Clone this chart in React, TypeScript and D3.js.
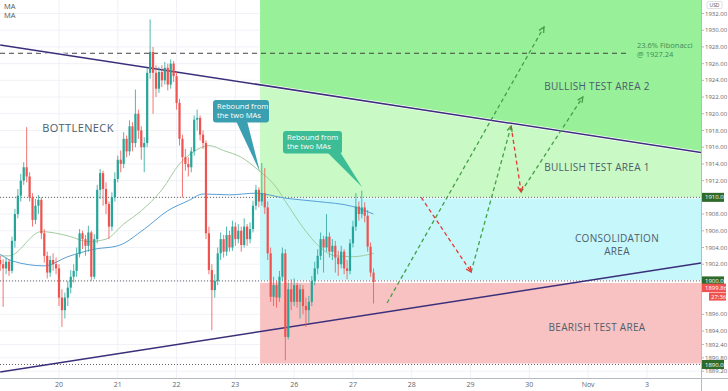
import React from 'react';
import * as d3 from 'd3';

const W = 728, H = 391;
const PR = 701, PB = 378;

// ---- data ----
const dayLabels = ['20', '21', '22', '23', '26', '27', '28', '29', '30', 'Nov', '3'];
const dayPos = [1, 2, 3, 4, 5, 6, 7, 8, 9, 10, 11];
const perDay = 20;
const firstOpen = 1902.5;
const closes = [
  1902.0, 1901.5, 1902.3, 1901.2, 1904.8, 1908.0, 1910.2, 1912.0, 1913.6, 1912.5,
  1910.0, 1907.3, 1909.0, 1909.7, 1905.7, 1903.0, 1901.0, 1902.5, 1902.0, 1901.5,
  1898.0, 1896.5, 1898.0, 1899.2, 1900.5, 1901.2, 1903.2, 1905.7, 1905.0, 1904.2,
  1905.8, 1900.5, 1905.0, 1910.9, 1912.9, 1911.0, 1909.2, 1906.5, 1910.0, 1912.2,
  1914.5, 1914.0, 1917.0, 1915.5, 1918.5, 1916.5, 1920.0, 1918.0, 1916.0, 1916.5,
  1924.9, 1927.4, 1924.9, 1923.0, 1925.0, 1924.0, 1925.5, 1923.5, 1926.0, 1924.5,
  1921.3, 1917.0, 1914.8, 1914.0, 1913.6, 1915.5, 1919.3, 1919.5, 1917.5, 1916.5,
  1905.7, 1901.3, 1898.9, 1900.0, 1903.3, 1905.0, 1903.5, 1905.5, 1904.0, 1906.5,
  1905.0, 1906.0, 1904.3, 1906.5, 1905.0, 1906.2, 1909.0, 1910.9, 1909.5, 1910.5,
  1908.8, 1903.3, 1898.1, 1899.5, 1898.0, 1900.5, 1903.3, 1893.3, 1899.0, 1897.5,
  1899.5, 1897.5, 1899.0, 1897.0, 1896.5, 1897.5, 1900.0, 1901.5, 1903.0, 1905.0,
  1904.0, 1905.3, 1903.5, 1904.2, 1902.8, 1902.0, 1903.5, 1901.5, 1901.2, 1904.5,
  1906.5, 1908.9, 1908.0, 1908.8, 1907.8, 1904.1, 1901.0, 1899.86,
];
const highs = [
  1903.0, 1902.6, 1902.8, 1902.6, 1905.3, 1908.6, 1911.0, 1912.8, 1914.2, 1918.4,
  1913.0, 1910.5, 1909.8, 1910.3, 1910.0, 1906.2, 1903.5, 1903.0, 1903.3, 1902.8,
  1902.0, 1899.0, 1898.6, 1900.0, 1901.3, 1902.0, 1904.0, 1906.2, 1906.0, 1905.5,
  1906.6, 1906.0, 1905.6, 1911.5, 1913.4, 1913.2, 1911.8, 1909.5, 1910.6, 1913.0,
  1915.0, 1915.6, 1917.8, 1917.4, 1919.2, 1919.0, 1922.9, 1920.5, 1918.5, 1917.2,
  1925.5, 1931.3, 1928.0, 1925.8, 1925.6, 1925.8, 1926.2, 1926.0, 1926.5, 1926.3,
  1925.0, 1921.8, 1917.5, 1915.8, 1914.8, 1916.0, 1919.8, 1920.5, 1919.8, 1918.0,
  1916.8, 1906.5, 1902.0, 1900.8, 1904.0, 1905.8, 1905.5, 1906.5, 1906.0, 1907.2,
  1907.0, 1906.8, 1906.5, 1907.5, 1906.8, 1907.0, 1909.6, 1911.5, 1911.2, 1914.1,
  1913.5, 1909.5, 1904.0, 1900.5, 1900.0, 1901.2, 1904.0, 1903.8, 1899.8, 1900.2,
  1900.3, 1899.8, 1899.6, 1899.5, 1898.0, 1898.2, 1900.6, 1902.3, 1903.8, 1905.8,
  1905.4, 1908.0, 1905.8, 1905.0, 1904.8, 1903.6, 1904.2, 1903.8, 1902.5, 1905.0,
  1907.2, 1910.5, 1909.5, 1910.8, 1909.4, 1908.5, 1904.6, 1901.5,
];
const lows = [
  1901.2, 1896.9, 1900.8, 1900.6, 1900.9, 1904.0, 1907.5, 1909.5, 1911.5, 1911.8,
  1909.5, 1906.5, 1906.8, 1908.0, 1905.0, 1902.2, 1900.3, 1900.5, 1901.2, 1900.8,
  1897.0, 1894.5, 1895.5, 1897.0, 1898.5, 1899.8, 1900.5, 1902.8, 1903.8, 1903.0,
  1903.5, 1900.0, 1900.2, 1904.5, 1909.8, 1909.0, 1908.0, 1905.0, 1906.0, 1909.5,
  1911.8, 1913.0, 1913.5, 1914.8, 1915.0, 1915.5, 1916.0, 1917.0, 1914.5, 1913.0,
  1916.0, 1924.2, 1920.0, 1922.0, 1922.5, 1923.2, 1923.5, 1922.8, 1923.0, 1923.8,
  1920.5, 1916.2, 1910.0, 1913.2, 1912.5, 1913.0, 1915.0, 1918.0, 1916.8, 1915.8,
  1905.0, 1900.8, 1894.1, 1898.0, 1899.5, 1902.5, 1902.8, 1903.0, 1903.5, 1903.6,
  1904.2, 1904.5, 1903.5, 1904.0, 1904.2, 1904.5, 1905.8, 1908.5, 1908.8, 1909.0,
  1908.0, 1902.5, 1897.5, 1897.0, 1896.8, 1897.5, 1900.0, 1890.5, 1893.0, 1896.5,
  1897.0, 1896.8, 1895.5, 1896.0, 1894.5, 1895.0, 1897.0, 1899.5, 1900.8, 1902.5,
  1901.0, 1903.5, 1902.8, 1902.5, 1901.0, 1900.6, 1901.5, 1900.8, 1900.2, 1900.8,
  1904.0, 1906.0, 1907.2, 1907.5, 1907.0, 1903.5, 1900.5, 1897.3,
];

const fastIdx = [0, 3, 14, 23, 30, 36, 42, 48, 55, 61, 66, 71, 76, 82, 88, 93, 98, 103, 108, 114, 120, 127];
const fastVal = [1903.0, 1903.0, 1905.9, 1905.4, 1904.7, 1905.0, 1906.8, 1908.4, 1910.9, 1914.0, 1915.5, 1916.2, 1915.6, 1914.8, 1913.2, 1911.6, 1909.0, 1906.4, 1904.3, 1903.0, 1902.9, 1903.3];
const slowIdx = [0, 4, 15, 23, 32, 40, 49, 57, 64, 69, 78, 87, 97, 108, 120, 127];
const slowVal = [1903.2, 1902.4, 1901.8, 1902.9, 1903.8, 1904.2, 1906.2, 1908.4, 1909.6, 1910.4, 1910.3, 1910.5, 1909.9, 1909.5, 1908.9, 1908.0];

const axisTicks = [1932, 1930, 1928, 1926, 1924, 1922, 1920, 1918, 1916, 1914, 1912, 1908, 1906, 1904, 1902, 1896, 1894, 1892.4, 1890.8, 1889.2];
const keyLevels = [1910, 1900, 1890];
const lastPrice = 1899.86;
const countdown = '27:36';
const fibLevel = 1927.24;
const fibLineEnd = 10.7;
const zoneStart = 4.42;
const zoneEnd = 11.92;
const bullTop = 1933.7;
const consTop = 1910;
const consBot = 1900;
const bearBot = 1890;
const descLine: [number, number][] = [[0, 1928.24], [11.92, 1915.37]];
const ascLine: [number, number][] = [[0, 1889.11], [11.92, 1902.15]];
const upPaths: [number, number][][] = [
  [[6.58, 1897.36], [9.25, 1930.39]],
  [[8.01, 1901.07], [8.69, 1918.54]],
  [[8.86, 1910.65], [9.91, 1922.01]],
];
const downPaths: [number, number][][] = [
  [[7.16, 1910.0], [8.01, 1901.07]],
  [[8.69, 1918.54], [8.86, 1910.65]],
];

// ---- scales ----
const x = d3.scaleLinear().domain([0, 11.92]).range([0.2, PR]);
const y = d3.scaleLinear().domain([1888.385, 1933.615]).range([PB, 0]);
const ct = (i: number) => i / perDay;

const interp = (ln: [number, number][], t: number) =>
  ln[0][1] + (ln[1][1] - ln[0][1]) * (t - ln[0][0]) / (ln[1][0] - ln[0][0]);

const FONT = '"Open Sans", "Noto Sans", sans-serif';

function Arrow({ pts, color }: { pts: [number, number][]; color: string }) {
  const [a, b] = pts;
  const x1 = x(a[0]), y1 = y(a[1]), x2 = x(b[0]), y2 = y(b[1]);
  const ang = Math.atan2(y2 - y1, x2 - x1);
  const L = 6, s = 0.45;
  const h1 = [x2 - L * Math.cos(ang - s), y2 - L * Math.sin(ang - s)];
  const h2 = [x2 - L * Math.cos(ang + s), y2 - L * Math.sin(ang + s)];
  return (
    <g stroke={color} strokeWidth={1.3} fill="none">
      <line x1={x1} y1={y1} x2={x2} y2={y2} strokeDasharray="4 3" />
      <polyline points={`${h1[0]},${h1[1]} ${x2},${y2} ${h2[0]},${h2[1]}`} />
    </g>
  );
}

export default function App() {
  const zx0 = x(zoneStart), zx1 = x(zoneEnd);
  const dStart = interp(descLine, zoneStart), dEnd = interp(descLine, zoneEnd);
  const darkGreen = [[zx0, y(bullTop)], [zx1, y(bullTop)], [zx1, y(dEnd)], [zx0, y(dStart)]];
  const lightGreen = [[zx0, y(dStart)], [zx1, y(dEnd)], [zx1, y(consTop)], [zx0, y(consTop)]];
  const poly = (p: number[][]) => p.map((q) => q.join(',')).join(' ');

  const fastLine = d3.line<number>().x((d, i) => x(ct(fastIdx[i]))).y((d) => y(d)).curve(d3.curveMonotoneX)(fastVal) || '';
  const slowLine = d3.line<number>().x((d, i) => x(ct(slowIdx[i]))).y((d) => y(d)).curve(d3.curveMonotoneX)(slowVal) || '';

  const UP = '#26a69a', DN = '#ef5350';

  return (
    <div style={{ position: 'fixed', left: 0, top: 0, width: W, height: H, background: '#fff' }}>
      <svg width={W} height={H} style={{ display: 'block', fontFamily: FONT }}>
        <rect x={0} y={0} width={W} height={H} fill="#ffffff" />
        {/* grid */}
        {dayPos.map((d, i) => (
          <line key={'vg' + i} x1={x(d)} x2={x(d)} y1={0} y2={PB} stroke="#eef1f6" strokeWidth={1} />
        ))}
        {axisTicks.concat([1910, 1900, 1898]).map((v, i) => (
          <line key={'hg' + i} x1={0} x2={PR} y1={y(v)} y2={y(v)} stroke="#f0f2f7" strokeWidth={1} />
        ))}
        {/* zones */}
        <polygon points={poly(darkGreen)} fill="#98f098" />
        <polygon points={poly(lightGreen)} fill="#c9f9c4" />
        <rect x={zx0} y={y(consTop) + 1} width={zx1 - zx0} height={y(consBot) - y(consTop) - 2} fill="#c6f7fb" />
        <rect x={zx0} y={y(consBot) + 2} width={zx1 - zx0} height={y(bearBot) - y(consBot) - 3} fill="#f9c2c2" />

        {/* key levels */}
        {keyLevels.map((v, i) => (
          <line key={'kl' + i} x1={0} x2={PR} y1={y(v)} y2={y(v)} stroke="#666" strokeWidth={1} strokeDasharray="1 2" />
        ))}
        <line x1={0} x2={x(fibLineEnd)} y1={y(fibLevel)} y2={y(fibLevel)} stroke="#444" strokeWidth={1} strokeDasharray="5 4" />

        {/* trendlines */}
        <line x1={x(descLine[0][0])} y1={y(descLine[0][1])} x2={x(descLine[1][0])} y2={y(descLine[1][1])} stroke="#ffffff" strokeWidth={3} />
        <line x1={x(descLine[0][0])} y1={y(descLine[0][1])} x2={x(descLine[1][0])} y2={y(descLine[1][1])} stroke="#3a2f7a" strokeWidth={1.5} />
        <line x1={x(ascLine[0][0])} y1={y(ascLine[0][1])} x2={x(ascLine[1][0])} y2={y(ascLine[1][1])} stroke="#3a2f7a" strokeWidth={1.5} />

        {/* MAs */}
        <path d={fastLine} fill="none" stroke="#a3cc9f" strokeWidth={1} />
        <path d={slowLine} fill="none" stroke="#5a9fd6" strokeWidth={1} />

        {/* candles */}
        {closes.map((c, i) => {
          const o = i === 0 ? firstOpen : closes[i - 1];
          const cx = x(ct(i));
          const col = c >= o ? UP : DN;
          const top = y(Math.max(o, c)), bot = y(Math.min(o, c));
          return (
            <g key={'c' + i}>
              <line x1={cx} x2={cx} y1={y(highs[i])} y2={y(lows[i])} stroke={col} strokeWidth={0.8} />
              <rect x={cx - 1.1} y={top} width={2.2} height={Math.max(0.8, bot - top)} fill={col} />
            </g>
          );
        })}

        {/* scenario arrows */}
        {upPaths.map((p, i) => <Arrow key={'u' + i} pts={p} color="#43a047" />)}
        {downPaths.map((p, i) => <Arrow key={'d' + i} pts={p} color="#e53935" />)}

        {/* callouts */}
        <g>
          <polygon points="236,121 247,121 260,172" fill="#3a9fb0" />
          <rect x={213} y={100} width={56} height={22.5} rx={3} fill="#3a9fb0" />
          <text x={217} y={109} fontSize={7.6} fill="#fff">Rebound from</text>
          <text x={217} y={118} fontSize={7.6} fill="#fff">the two MAs</text>
        </g>
        <g>
          <polygon points="327,152 340,152 362,187" fill="#3dbd96" />
          <rect x={283} y={131} width={59} height={22.5} rx={3} fill="#3dbd96" />
          <text x={287} y={140} fontSize={7.6} fill="#fff">Rebound from</text>
          <text x={287} y={149} fontSize={7.6} fill="#fff">the two MAs</text>
        </g>

        {/* zone labels */}
        <g fill="#4d5d6c" fontWeight={500} textAnchor="middle">
          <text x={78} y={132} fontSize={11} letterSpacing={0.4}>BOTTLENECK</text>
          <text x={597} y={90} fontSize={10} letterSpacing={0.3}>BULLISH TEST AREA 2</text>
          <text x={597} y={171} fontSize={10} letterSpacing={0.3}>BULLISH TEST AREA 1</text>
          <text x={617} y={242} fontSize={10} letterSpacing={0.3}>CONSOLIDATION</text>
          <text x={617} y={255} fontSize={10} letterSpacing={0.3}>AREA</text>
          <text x={597} y={331} fontSize={10} letterSpacing={0.3}>BEARISH TEST AREA</text>
        </g>
        <text x={637} y={48} fontSize={7.5} fill="#3f8c55">23.6% Fibonacci</text>
        <text x={637} y={56.5} fontSize={7.5} fill="#3f8c55">@ 1927.24</text>

        {/* legend */}
        <text x={4} y={9} fontSize={7.5} fill="#555">MA</text>
        <text x={4} y={18} fontSize={7.5} fill="#555">MA</text>

        {/* price axis */}
        <rect x={PR} y={0} width={W - PR} height={H} fill="#fff" />
        <line x1={PR + 0.5} x2={PR + 0.5} y1={0} y2={H} stroke="#b5b9c2" strokeWidth={1} />
        <line x1={0} x2={W} y1={PB + 0.5} y2={PB + 0.5} stroke="#b5b9c2" strokeWidth={1} />
        <rect x={707} y={1.5} width={15} height={7} fill="#fff" stroke="#ccc" strokeWidth={0.6} rx={1} />
        <text x={714.5} y={7} fontSize={5} fill="#555" textAnchor="middle">USD</text>
        {axisTicks.map((v, i) => (
          <g key={'at' + i}>
            <line x1={PR} x2={PR + 3} y1={y(v)} y2={y(v)} stroke="#b5b9c2" />
            <text x={705} y={y(v) + 2.1} fontSize={6} fill="#666">{v.toFixed(2)}</text>
          </g>
        ))}
        {keyLevels.map((v, i) => (
          <g key={'kb' + i}>
            <rect x={702} y={y(v) - 4.5} width={22} height={9} fill="#2e6b2a" />
            <text x={705} y={y(v) + 2.1} fontSize={6} fill="#fff">{v.toFixed(2)}</text>
          </g>
        ))}
        <rect x={702} y={y(lastPrice) + 1.5} width={24} height={8.5} fill="#ef5350" />
        <text x={705} y={y(lastPrice) + 7.8} fontSize={6} fill="#fff">{lastPrice.toFixed(2)}</text>
        <rect x={709} y={y(lastPrice) + 10.5} width={17} height={8} fill="#ef5350" />
        <text x={711} y={y(lastPrice) + 16.6} fontSize={6} fill="#fff">{countdown}</text>

        {/* time axis */}
        {dayLabels.map((l, i) => (
          <text key={'dl' + i} x={x(dayPos[i])} y={387} fontSize={7} fill="#666" textAnchor="middle">{l}</text>
        ))}
      </svg>
    </div>
  );
}
